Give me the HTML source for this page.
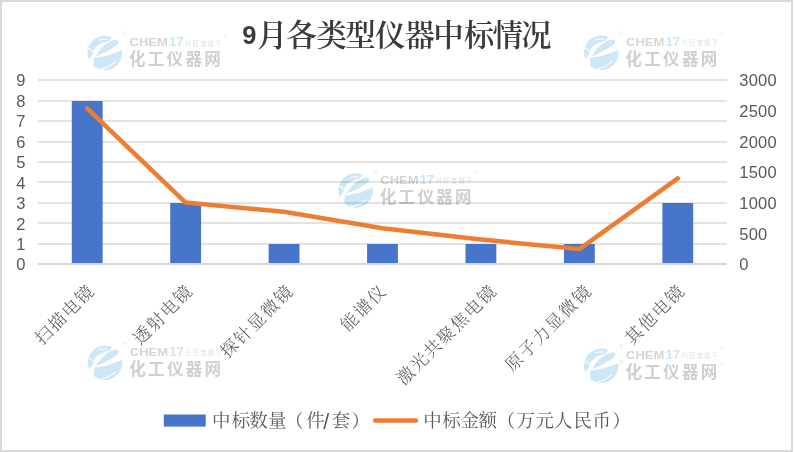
<!DOCTYPE html>
<html><head><meta charset="utf-8"><style>
html,body{margin:0;padding:0;background:#fff;}
body{width:794px;height:452px;position:relative;overflow:hidden;}
.frame{position:absolute;left:0;top:0;width:793px;height:452px;box-sizing:border-box;border:2px solid #d9d9d9;}
</style></head><body>
<div class="frame"></div>
<svg width="794" height="452" viewBox="0 0 794 452" style="position:absolute;left:0;top:0">
<line x1="38" x2="727" y1="244" y2="244" stroke="#e3e3e3" stroke-width="2"/>
<line x1="38" x2="727" y1="223" y2="223" stroke="#e3e3e3" stroke-width="2"/>
<line x1="38" x2="727" y1="203" y2="203" stroke="#e3e3e3" stroke-width="2"/>
<line x1="38" x2="727" y1="182" y2="182" stroke="#e3e3e3" stroke-width="2"/>
<line x1="38" x2="727" y1="162" y2="162" stroke="#e3e3e3" stroke-width="2"/>
<line x1="38" x2="727" y1="142" y2="142" stroke="#e3e3e3" stroke-width="2"/>
<line x1="38" x2="727" y1="121" y2="121" stroke="#e3e3e3" stroke-width="2"/>
<line x1="38" x2="727" y1="101" y2="101" stroke="#e3e3e3" stroke-width="2"/>
<line x1="38" x2="727" y1="80" y2="80" stroke="#e3e3e3" stroke-width="2"/>
<rect x="71.79" y="101" width="30.86" height="163" fill="#4775c9"/>
<rect x="170.22" y="203" width="30.86" height="61" fill="#4775c9"/>
<rect x="268.64" y="244" width="30.86" height="20" fill="#4775c9"/>
<rect x="367.07" y="244" width="30.86" height="20" fill="#4775c9"/>
<rect x="465.50" y="244" width="30.86" height="20" fill="#4775c9"/>
<rect x="563.93" y="244" width="30.86" height="20" fill="#4775c9"/>
<rect x="662.36" y="203" width="30.86" height="61" fill="#4775c9"/>
<line x1="38" x2="727" y1="264" y2="264" stroke="#d5d5d5" stroke-width="2"/>
<polyline points="87.21,108.30 185.64,202.60 284.07,211.80 382.50,228.30 480.93,239.50 579.36,249.10 677.79,178.40" fill="none" stroke="#ed7d31" stroke-width="4.5" stroke-linecap="round" stroke-linejoin="round"/>
<g transform="translate(0,0)" style="mix-blend-mode:multiply">
<path d="M88.78 59.73 A17.35 17.35 0 0 1 111.81 37.1 L108.5 41.2 C102 42.2 93 46.5 92.4 54.6 Z" fill="#cde7f7"/>
<path d="M95.5 56.4 C99.5 48.5 108 40.5 116 39.8 C119 39.6 119.2 42 117.5 44.5 C112 49 104 53.2 95.5 56.4 Z" fill="#cde7f7"/>
<path d="M93.8 57.8 C102 57.2 114 54 121.84 49.94 A17.35 17.35 0 0 1 93.6 66.24 Z" fill="#cde7f7"/>
<path d="M99.5 69.6 C105 68.7 111 65.6 115.8 61.8" fill="none" stroke="#fff" stroke-width="1.2"/>
<path d="M98.5 39.9 C101 39.3 104 39.1 107.5 39.3" fill="none" stroke="#fff" stroke-width="1.1"/>
<path d="M86.8 48.4 L90.5 49.2 L92.2 51.2" fill="none" stroke="#fff" stroke-width="1.1"/>
<text x="122.6" y="36" font-family="Liberation Sans, sans-serif" font-size="6" fill="#e4e4e4">®</text>
<text x="224" y="36.5" font-family="Liberation Sans, sans-serif" font-size="5" fill="#e4e4e4">x</text>
<text x="129.5" y="46" font-family="Liberation Sans, sans-serif" font-weight="bold" font-size="11.2" fill="#d5d5d5" textLength="38.3" lengthAdjust="spacingAndGlyphs">CHEM</text>
<text x="168.9" y="46" font-family="Liberation Sans, sans-serif" font-weight="bold" font-size="12.4" fill="#cae7f7" textLength="14.6" lengthAdjust="spacingAndGlyphs">17</text>
<text x="185" y="45.5" font-family="Noto Sans CJK SC, sans-serif" font-size="6.5" fill="#e2e2e2" letter-spacing="1">兴旺宝旗下</text>
<text x="129" y="65" font-family="Noto Sans CJK SC, sans-serif" font-weight="bold" font-size="16.5" fill="#cfcfcf" letter-spacing="2.3">化工仪器网</text>
</g>
<g transform="translate(496.5,-0.2)" style="mix-blend-mode:multiply">
<path d="M88.78 59.73 A17.35 17.35 0 0 1 111.81 37.1 L108.5 41.2 C102 42.2 93 46.5 92.4 54.6 Z" fill="#cde7f7"/>
<path d="M95.5 56.4 C99.5 48.5 108 40.5 116 39.8 C119 39.6 119.2 42 117.5 44.5 C112 49 104 53.2 95.5 56.4 Z" fill="#cde7f7"/>
<path d="M93.8 57.8 C102 57.2 114 54 121.84 49.94 A17.35 17.35 0 0 1 93.6 66.24 Z" fill="#cde7f7"/>
<path d="M99.5 69.6 C105 68.7 111 65.6 115.8 61.8" fill="none" stroke="#fff" stroke-width="1.2"/>
<path d="M98.5 39.9 C101 39.3 104 39.1 107.5 39.3" fill="none" stroke="#fff" stroke-width="1.1"/>
<path d="M86.8 48.4 L90.5 49.2 L92.2 51.2" fill="none" stroke="#fff" stroke-width="1.1"/>
<text x="122.6" y="36" font-family="Liberation Sans, sans-serif" font-size="6" fill="#e4e4e4">®</text>
<text x="224" y="36.5" font-family="Liberation Sans, sans-serif" font-size="5" fill="#e4e4e4">x</text>
<text x="129.5" y="46" font-family="Liberation Sans, sans-serif" font-weight="bold" font-size="11.2" fill="#d5d5d5" textLength="38.3" lengthAdjust="spacingAndGlyphs">CHEM</text>
<text x="168.9" y="46" font-family="Liberation Sans, sans-serif" font-weight="bold" font-size="12.4" fill="#cae7f7" textLength="14.6" lengthAdjust="spacingAndGlyphs">17</text>
<text x="185" y="45.5" font-family="Noto Sans CJK SC, sans-serif" font-size="6.5" fill="#e2e2e2" letter-spacing="1">兴旺宝旗下</text>
<text x="129" y="65" font-family="Noto Sans CJK SC, sans-serif" font-weight="bold" font-size="16.5" fill="#cfcfcf" letter-spacing="2.3">化工仪器网</text>
</g>
<g transform="translate(250.8,137.6)" style="mix-blend-mode:multiply">
<path d="M88.78 59.73 A17.35 17.35 0 0 1 111.81 37.1 L108.5 41.2 C102 42.2 93 46.5 92.4 54.6 Z" fill="#cde7f7"/>
<path d="M95.5 56.4 C99.5 48.5 108 40.5 116 39.8 C119 39.6 119.2 42 117.5 44.5 C112 49 104 53.2 95.5 56.4 Z" fill="#cde7f7"/>
<path d="M93.8 57.8 C102 57.2 114 54 121.84 49.94 A17.35 17.35 0 0 1 93.6 66.24 Z" fill="#cde7f7"/>
<path d="M99.5 69.6 C105 68.7 111 65.6 115.8 61.8" fill="none" stroke="#fff" stroke-width="1.2"/>
<path d="M98.5 39.9 C101 39.3 104 39.1 107.5 39.3" fill="none" stroke="#fff" stroke-width="1.1"/>
<path d="M86.8 48.4 L90.5 49.2 L92.2 51.2" fill="none" stroke="#fff" stroke-width="1.1"/>
<text x="122.6" y="36" font-family="Liberation Sans, sans-serif" font-size="6" fill="#e4e4e4">®</text>
<text x="224" y="36.5" font-family="Liberation Sans, sans-serif" font-size="5" fill="#e4e4e4">x</text>
<text x="129.5" y="46" font-family="Liberation Sans, sans-serif" font-weight="bold" font-size="11.2" fill="#d5d5d5" textLength="38.3" lengthAdjust="spacingAndGlyphs">CHEM</text>
<text x="168.9" y="46" font-family="Liberation Sans, sans-serif" font-weight="bold" font-size="12.4" fill="#cae7f7" textLength="14.6" lengthAdjust="spacingAndGlyphs">17</text>
<text x="185" y="45.5" font-family="Noto Sans CJK SC, sans-serif" font-size="6.5" fill="#e2e2e2" letter-spacing="1">兴旺宝旗下</text>
<text x="129" y="65" font-family="Noto Sans CJK SC, sans-serif" font-weight="bold" font-size="16.5" fill="#cfcfcf" letter-spacing="2.3">化工仪器网</text>
</g>
<g transform="translate(0.3,309.8)" style="mix-blend-mode:multiply">
<path d="M88.78 59.73 A17.35 17.35 0 0 1 111.81 37.1 L108.5 41.2 C102 42.2 93 46.5 92.4 54.6 Z" fill="#cde7f7"/>
<path d="M95.5 56.4 C99.5 48.5 108 40.5 116 39.8 C119 39.6 119.2 42 117.5 44.5 C112 49 104 53.2 95.5 56.4 Z" fill="#cde7f7"/>
<path d="M93.8 57.8 C102 57.2 114 54 121.84 49.94 A17.35 17.35 0 0 1 93.6 66.24 Z" fill="#cde7f7"/>
<path d="M99.5 69.6 C105 68.7 111 65.6 115.8 61.8" fill="none" stroke="#fff" stroke-width="1.2"/>
<path d="M98.5 39.9 C101 39.3 104 39.1 107.5 39.3" fill="none" stroke="#fff" stroke-width="1.1"/>
<path d="M86.8 48.4 L90.5 49.2 L92.2 51.2" fill="none" stroke="#fff" stroke-width="1.1"/>
<text x="122.6" y="36" font-family="Liberation Sans, sans-serif" font-size="6" fill="#e4e4e4">®</text>
<text x="224" y="36.5" font-family="Liberation Sans, sans-serif" font-size="5" fill="#e4e4e4">x</text>
<text x="129.5" y="46" font-family="Liberation Sans, sans-serif" font-weight="bold" font-size="11.2" fill="#d5d5d5" textLength="38.3" lengthAdjust="spacingAndGlyphs">CHEM</text>
<text x="168.9" y="46" font-family="Liberation Sans, sans-serif" font-weight="bold" font-size="12.4" fill="#cae7f7" textLength="14.6" lengthAdjust="spacingAndGlyphs">17</text>
<text x="185" y="45.5" font-family="Noto Sans CJK SC, sans-serif" font-size="6.5" fill="#e2e2e2" letter-spacing="1">兴旺宝旗下</text>
<text x="129" y="65" font-family="Noto Sans CJK SC, sans-serif" font-weight="bold" font-size="16.5" fill="#cfcfcf" letter-spacing="2.3">化工仪器网</text>
</g>
<g transform="translate(496.5,312.8)" style="mix-blend-mode:multiply">
<path d="M88.78 59.73 A17.35 17.35 0 0 1 111.81 37.1 L108.5 41.2 C102 42.2 93 46.5 92.4 54.6 Z" fill="#cde7f7"/>
<path d="M95.5 56.4 C99.5 48.5 108 40.5 116 39.8 C119 39.6 119.2 42 117.5 44.5 C112 49 104 53.2 95.5 56.4 Z" fill="#cde7f7"/>
<path d="M93.8 57.8 C102 57.2 114 54 121.84 49.94 A17.35 17.35 0 0 1 93.6 66.24 Z" fill="#cde7f7"/>
<path d="M99.5 69.6 C105 68.7 111 65.6 115.8 61.8" fill="none" stroke="#fff" stroke-width="1.2"/>
<path d="M98.5 39.9 C101 39.3 104 39.1 107.5 39.3" fill="none" stroke="#fff" stroke-width="1.1"/>
<path d="M86.8 48.4 L90.5 49.2 L92.2 51.2" fill="none" stroke="#fff" stroke-width="1.1"/>
<text x="122.6" y="36" font-family="Liberation Sans, sans-serif" font-size="6" fill="#e4e4e4">®</text>
<text x="224" y="36.5" font-family="Liberation Sans, sans-serif" font-size="5" fill="#e4e4e4">x</text>
<text x="129.5" y="46" font-family="Liberation Sans, sans-serif" font-weight="bold" font-size="11.2" fill="#d5d5d5" textLength="38.3" lengthAdjust="spacingAndGlyphs">CHEM</text>
<text x="168.9" y="46" font-family="Liberation Sans, sans-serif" font-weight="bold" font-size="12.4" fill="#cae7f7" textLength="14.6" lengthAdjust="spacingAndGlyphs">17</text>
<text x="185" y="45.5" font-family="Noto Sans CJK SC, sans-serif" font-size="6.5" fill="#e2e2e2" letter-spacing="1">兴旺宝旗下</text>
<text x="129" y="65" font-family="Noto Sans CJK SC, sans-serif" font-weight="bold" font-size="16.5" fill="#cfcfcf" letter-spacing="2.3">化工仪器网</text>
</g>
<text x="619" y="364" font-family="Liberation Sans, sans-serif" font-size="6" fill="#e4e4e4">®</text>
<text x="720.5" y="364.5" font-family="Liberation Sans, sans-serif" font-size="5" fill="#e4e4e4">x</text>
<text x="25.5" y="270.40" text-anchor="end" font-family="Liberation Sans, sans-serif" font-size="16.5" fill="#595959">0</text>
<text x="25.5" y="249.96" text-anchor="end" font-family="Liberation Sans, sans-serif" font-size="16.5" fill="#595959">1</text>
<text x="25.5" y="229.51" text-anchor="end" font-family="Liberation Sans, sans-serif" font-size="16.5" fill="#595959">2</text>
<text x="25.5" y="209.07" text-anchor="end" font-family="Liberation Sans, sans-serif" font-size="16.5" fill="#595959">3</text>
<text x="25.5" y="188.62" text-anchor="end" font-family="Liberation Sans, sans-serif" font-size="16.5" fill="#595959">4</text>
<text x="25.5" y="168.18" text-anchor="end" font-family="Liberation Sans, sans-serif" font-size="16.5" fill="#595959">5</text>
<text x="25.5" y="147.73" text-anchor="end" font-family="Liberation Sans, sans-serif" font-size="16.5" fill="#595959">6</text>
<text x="25.5" y="127.29" text-anchor="end" font-family="Liberation Sans, sans-serif" font-size="16.5" fill="#595959">7</text>
<text x="25.5" y="106.84" text-anchor="end" font-family="Liberation Sans, sans-serif" font-size="16.5" fill="#595959">8</text>
<text x="25.5" y="86.40" text-anchor="end" font-family="Liberation Sans, sans-serif" font-size="16.5" fill="#595959">9</text>
<text x="739.3" y="270.40" font-family="Liberation Sans, sans-serif" font-size="16.5" letter-spacing="0.2" fill="#595959">0</text>
<text x="739.3" y="239.73" font-family="Liberation Sans, sans-serif" font-size="16.5" letter-spacing="0.2" fill="#595959">500</text>
<text x="739.3" y="209.07" font-family="Liberation Sans, sans-serif" font-size="16.5" letter-spacing="0.2" fill="#595959">1000</text>
<text x="739.3" y="178.40" font-family="Liberation Sans, sans-serif" font-size="16.5" letter-spacing="0.2" fill="#595959">1500</text>
<text x="739.3" y="147.73" font-family="Liberation Sans, sans-serif" font-size="16.5" letter-spacing="0.2" fill="#595959">2000</text>
<text x="739.3" y="117.07" font-family="Liberation Sans, sans-serif" font-size="16.5" letter-spacing="0.2" fill="#595959">2500</text>
<text x="739.3" y="86.40" font-family="Liberation Sans, sans-serif" font-size="16.5" letter-spacing="0.2" fill="#595959">3000</text>
<text transform="translate(95.90,291.9) rotate(-45)" text-anchor="end" font-family="Noto Serif CJK SC, serif" font-weight="300" font-size="17.5" letter-spacing="1.5" fill="#595959">扫描电镜</text>
<text transform="translate(194.30,291.9) rotate(-45)" text-anchor="end" font-family="Noto Serif CJK SC, serif" font-weight="300" font-size="17.5" letter-spacing="1.5" fill="#595959">透射电镜</text>
<text transform="translate(295.00,291.9) rotate(-45)" text-anchor="end" font-family="Noto Serif CJK SC, serif" font-weight="300" font-size="17.5" letter-spacing="1.5" fill="#595959">探针显微镜</text>
<text transform="translate(388.10,291.9) rotate(-45)" text-anchor="end" font-family="Noto Serif CJK SC, serif" font-weight="300" font-size="17.5" letter-spacing="1.5" fill="#595959">能谱仪</text>
<text transform="translate(498.10,291.9) rotate(-45)" text-anchor="end" font-family="Noto Serif CJK SC, serif" font-weight="300" font-size="17.5" letter-spacing="1.5" fill="#595959">激光共聚焦电镜</text>
<text transform="translate(593.10,291.9) rotate(-45)" text-anchor="end" font-family="Noto Serif CJK SC, serif" font-weight="300" font-size="17.5" letter-spacing="1.5" fill="#595959">原子力显微镜</text>
<text transform="translate(686.10,291.9) rotate(-45)" text-anchor="end" font-family="Noto Serif CJK SC, serif" font-weight="300" font-size="17.5" letter-spacing="1.5" fill="#595959">其他电镜</text>
<text x="242.3" y="43.5" font-family="Liberation Sans, sans-serif" font-weight="bold" font-size="25.5" fill="#3b3b3b">9</text>
<text x="256.9 286.2 316.6 345.2 374.9 404.4 433.2 463.7 492.6 521.1" y="46" font-family="Noto Serif CJK SC, serif" font-weight="600" font-size="30.5" fill="#3b3b3b">月各类型仪器中标情况</text>
<rect x="163.8" y="414.5" width="41.9" height="12.1" fill="#4775c9"/>
<text x="212.0 231.7 249.3 267.9 285.0 306.2 323.2 331.7 351.5" y="427.3" font-family="Noto Serif CJK SC, serif" font-weight="400" font-size="18.5" fill="#595959">中标数量（件<tspan font-family="Liberation Sans, sans-serif" font-size="21.5" dy="1.9">/</tspan><tspan dy="-1.9">套）</tspan></text>
<line x1="375.2" x2="416" y1="420.5" y2="420.5" stroke="#ed7d31" stroke-width="4.5" stroke-linecap="round"/>
<text x="423.3 442.2 460.6 478.6 496.7 516.6 535.4 553.7 573.5 592.4 612.3" y="427.3" font-family="Noto Serif CJK SC, serif" font-weight="400" font-size="18.5" fill="#595959">中标金额（万元人民币）</text>
</svg>
</body></html>
